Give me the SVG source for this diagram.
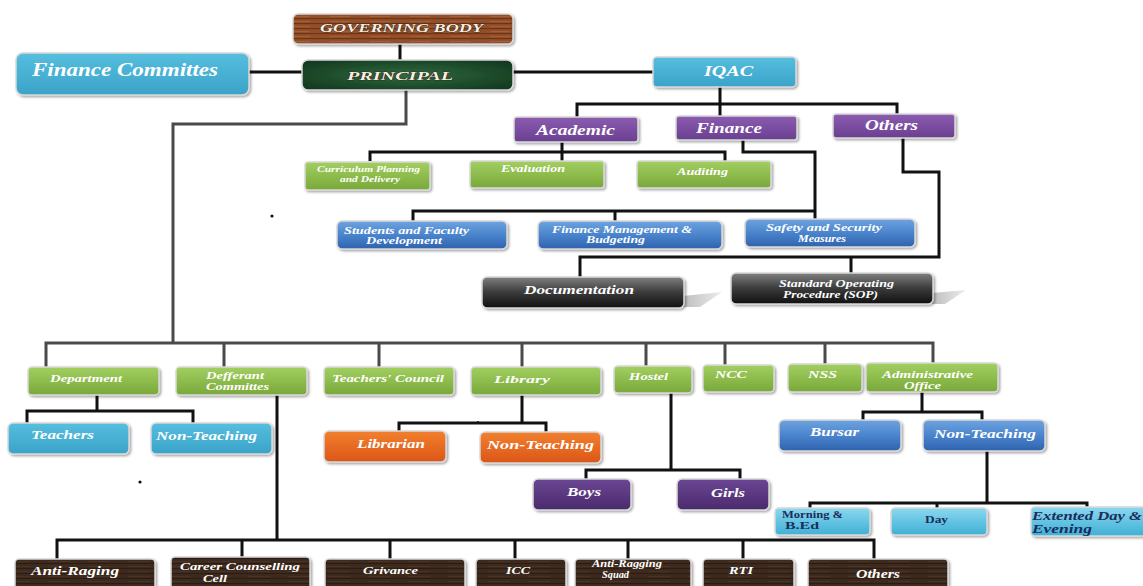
<svg xmlns="http://www.w3.org/2000/svg" width="1143" height="586" viewBox="0 0 1143 586">
<defs>
<linearGradient id="gGreen" x1="0" y1="0" x2="0" y2="1"><stop offset="0" stop-color="#a2cf60"/><stop offset="1" stop-color="#79a83a"/></linearGradient>
<linearGradient id="gPurple" x1="0" y1="0" x2="0" y2="1"><stop offset="0" stop-color="#8b5cb0"/><stop offset="1" stop-color="#6a3f90"/></linearGradient>
<linearGradient id="gBlue" x1="0" y1="0" x2="0" y2="1"><stop offset="0" stop-color="#6ea3e0"/><stop offset="0.5" stop-color="#4a84cc"/><stop offset="1" stop-color="#2f62ae"/></linearGradient>
<linearGradient id="gCyan" x1="0" y1="0" x2="0" y2="1"><stop offset="0" stop-color="#56bede"/><stop offset="1" stop-color="#3aa3c9"/></linearGradient>
<linearGradient id="gLight" x1="0" y1="0" x2="0" y2="1"><stop offset="0" stop-color="#8ad8ee"/><stop offset="1" stop-color="#3fb0d6"/></linearGradient>
<linearGradient id="gDark" x1="0" y1="0" x2="0" y2="1"><stop offset="0" stop-color="#808080"/><stop offset="0.5" stop-color="#3a3a3a"/><stop offset="1" stop-color="#111"/></linearGradient>
<linearGradient id="gOrange" x1="0" y1="0" x2="0" y2="1"><stop offset="0" stop-color="#f2802e"/><stop offset="1" stop-color="#db5618"/></linearGradient>
<linearGradient id="gViolet" x1="0" y1="0" x2="0" y2="1"><stop offset="0" stop-color="#6c4694"/><stop offset="1" stop-color="#4a2a6c"/></linearGradient>
<linearGradient id="gShadow" x1="0" y1="0" x2="1" y2="0"><stop offset="0" stop-color="#bdbdbd"/><stop offset="1" stop-color="#ededed"/></linearGradient>
<radialGradient id="gMarble" cx="0.5" cy="0.5" r="0.7"><stop offset="0" stop-color="#2f6a3e"/><stop offset="0.6" stop-color="#1d4a2a"/><stop offset="1" stop-color="#123420"/></radialGradient>
<pattern id="pWood" patternUnits="userSpaceOnUse" width="40" height="5"><rect width="40" height="5" fill="#93502a"/><rect y="3" width="40" height="1.2" fill="#6d3515"/><rect x="10" y="1" width="20" height="0.8" fill="#a96236"/></pattern>
<pattern id="pDarkWood" patternUnits="userSpaceOnUse" width="40" height="5"><rect width="40" height="5" fill="#3e2a1f"/><rect y="3" width="40" height="1" fill="#2a1b12"/><rect x="8" y="1" width="22" height="0.8" fill="#4d3527"/></pattern>
<filter id="sh" x="-10%" y="-20%" width="120%" height="150%"><feDropShadow dx="1.5" dy="1.5" stdDeviation="1" flood-color="#000" flood-opacity="0.35"/></filter>
</defs>
<style>
.bx{stroke:#d9d9d9;stroke-width:1.5;filter:url(#sh)}
.t{font-family:"Liberation Serif","DejaVu Serif",serif;font-style:italic;font-weight:bold;fill:#fff}
.n{fill:#1c2c5c}
.up{font-style:normal}
.cap{fill:#f5efe4;stroke:#2a1408;stroke-width:0.7;paint-order:stroke}
.c{fill:none;stroke:#111;stroke-width:3}
.g{fill:none;stroke:#4a4a4a;stroke-width:3}
</style>

<g id="connectors">
<path class="c" d="M400,44V60M248,72H302M513,72H653"/>
<path class="g" d="M406,90V124H173V343"/>
<path class="g" d="M46,367V343H933V364M224,343V367M379,343V367M522,343V367M646,343V366M725,343V365M825,343V364"/>
<path class="c" d="M720,87V104M577,117V104H897V114M720,104V116"/>
<path class="c" d="M562,142V152M370,161V152H725V161M562,152V161"/>
<path class="c" d="M743,140V152H815V219M413,221V211H815M615,211V221"/>
<path class="c" d="M903,138V172H939V257H580V277M851,257V273"/>
<path class="c" d="M97,395V411M27,423V411H193V423"/>
<path class="c" d="M277,395V540M57,559V540H874V559M242,540V557M390,540V559M515,540V559M628,540V559M743,540V559"/>
<path class="c" d="M522,395V423M399,431V423H546V432"/>
<path class="c" d="M671,393V470M586,479V470H740V479"/>
<path class="c" d="M922,392V412M863,420V412H982V420"/>
<path class="c" d="M987,451V503M810,508V503H1087V507M937,503V508"/>
</g>

<g id="dots" fill="#111">
<circle cx="272" cy="216" r="1.6"/><circle cx="140" cy="482" r="1.6"/><circle cx="478" cy="422" r="1"/><circle cx="537" cy="394" r="1"/>
</g>

<g id="governing-body"><rect class="bx" x="293" y="14" width="220" height="30" rx="5" fill="url(#pWood)"/><text class="t cap" x="320" y="32" font-size="13" textLength="163" lengthAdjust="spacingAndGlyphs">GOVERNING BODY</text></g>
<g id="principal"><rect class="bx" x="302" y="60" width="211" height="30" rx="6" fill="url(#gMarble)"/><text class="t cap" x="347" y="80" font-size="13" textLength="106" lengthAdjust="spacingAndGlyphs">PRINCIPAL</text></g>
<g id="finance-committes"><rect class="bx" x="16" y="53" width="233" height="42" rx="7" fill="url(#gCyan)" stroke-width="2.5"/><text class="t" x="32" y="76" font-size="18" fill="#eaf6fa" textLength="186" lengthAdjust="spacingAndGlyphs">Finance Committes</text></g>
<g id="iqac"><rect class="bx" x="653" y="57" width="143" height="30" rx="4" fill="url(#gCyan)"/><text class="t" x="704" y="76" font-size="14" textLength="49" lengthAdjust="spacingAndGlyphs">IQAC</text></g>

<g id="academic"><rect class="bx" x="514" y="117" width="124" height="25" rx="3" fill="url(#gPurple)"/><text class="t" x="536" y="135" font-size="15" textLength="79" lengthAdjust="spacingAndGlyphs">Academic</text></g>
<g id="finance"><rect class="bx" x="676" y="116" width="121" height="24" rx="3" fill="url(#gPurple)"/><text class="t" x="696" y="133" font-size="14" textLength="66" lengthAdjust="spacingAndGlyphs">Finance</text></g>
<g id="others-iqac"><rect class="bx" x="833" y="114" width="122" height="24" rx="3" fill="url(#gPurple)"/><text class="t" x="865" y="130" font-size="14" textLength="53" lengthAdjust="spacingAndGlyphs">Others</text></g>

<g id="curriculum"><rect class="bx" x="305" y="162" width="125" height="28" rx="3" fill="url(#gGreen)"/><text class="t" x="317" y="172" font-size="8.5" textLength="103" lengthAdjust="spacingAndGlyphs">Curriculum Planning</text><text class="t" x="340" y="182" font-size="8.5" textLength="60" lengthAdjust="spacingAndGlyphs">and Delivery</text></g>
<g id="evaluation"><rect class="bx" x="470" y="161" width="134" height="27" rx="3" fill="url(#gGreen)"/><text class="t" x="501" y="172" font-size="10" textLength="64" lengthAdjust="spacingAndGlyphs">Evaluation</text></g>
<g id="auditing"><rect class="bx" x="637" y="161" width="134" height="27" rx="3" fill="url(#gGreen)"/><text class="t" x="677" y="175" font-size="10" textLength="51" lengthAdjust="spacingAndGlyphs">Auditing</text></g>

<g id="students"><rect class="bx" x="337" y="221" width="170" height="28" rx="5" fill="url(#gBlue)"/><text class="t" x="344" y="234" font-size="9.5" textLength="125" lengthAdjust="spacingAndGlyphs">Students and Faculty</text><text class="t" x="366" y="244" font-size="9.5" textLength="76" lengthAdjust="spacingAndGlyphs">Development</text></g>
<g id="finance-mgmt"><rect class="bx" x="538" y="221" width="184" height="28" rx="5" fill="url(#gBlue)"/><text class="t" x="552" y="233" font-size="10" textLength="140" lengthAdjust="spacingAndGlyphs">Finance Management &amp;</text><text class="t" x="586" y="243" font-size="10" textLength="59" lengthAdjust="spacingAndGlyphs">Budgeting</text></g>
<g id="safety"><rect class="bx" x="745" y="219" width="170" height="28" rx="5" fill="url(#gBlue)"/><text class="t" x="766" y="231" font-size="9.5" textLength="116" lengthAdjust="spacingAndGlyphs">Safety and Security</text><text class="t" x="798" y="242" font-size="9.5" textLength="48" lengthAdjust="spacingAndGlyphs">Measures</text></g>

<g id="documentation"><polygon points="683,296 722,292 700,307 683,307" fill="url(#gShadow)"/><rect class="bx" x="482" y="277" width="202" height="31" rx="5" fill="url(#gDark)" stroke="#555"/><text class="t" x="524" y="294" font-size="13" fill="#f2f2f2" textLength="110" lengthAdjust="spacingAndGlyphs">Documentation</text></g>
<g id="sop"><polygon points="932,293 966,290 945,304 932,304" fill="url(#gShadow)"/><rect class="bx" x="731" y="273" width="202" height="31" rx="5" fill="url(#gDark)" stroke="#555"/><text class="t" x="779" y="287" font-size="9.5" fill="#f2f2f2" textLength="115" lengthAdjust="spacingAndGlyphs">Standard Operating</text><text class="t" x="783" y="298" font-size="9.5" fill="#f2f2f2" textLength="95" lengthAdjust="spacingAndGlyphs">Procedure (SOP)</text></g>

<g id="department"><rect class="bx" x="28" y="367" width="131" height="28" rx="4" fill="url(#gGreen)"/><text class="t" x="50" y="382" font-size="10.5" textLength="72" lengthAdjust="spacingAndGlyphs">Department</text></g>
<g id="defferant-committes"><rect class="bx" x="176" y="367" width="131" height="28" rx="4" fill="url(#gGreen)"/><text class="t" x="206" y="379" font-size="10.5" textLength="58" lengthAdjust="spacingAndGlyphs">Defferant</text><text class="t" x="206" y="390" font-size="10.5" textLength="63" lengthAdjust="spacingAndGlyphs">Committes</text></g>
<g id="teachers-council"><rect class="bx" x="324" y="367" width="130" height="28" rx="4" fill="url(#gGreen)"/><text class="t" x="332" y="382" font-size="10.5" textLength="112" lengthAdjust="spacingAndGlyphs">Teachers' Council</text></g>
<g id="library"><rect class="bx" x="471" y="367" width="130" height="28" rx="4" fill="url(#gGreen)"/><text class="t" x="494" y="383" font-size="10.5" textLength="56" lengthAdjust="spacingAndGlyphs">Library</text></g>
<g id="hostel"><rect class="bx" x="614" y="366" width="78" height="27" rx="4" fill="url(#gGreen)"/><text class="t" x="629" y="380" font-size="10.5" textLength="39" lengthAdjust="spacingAndGlyphs">Hostel</text></g>
<g id="ncc"><rect class="bx" x="703" y="365" width="71" height="27" rx="4" fill="url(#gGreen)"/><text class="t" x="715" y="378" font-size="10" textLength="32" lengthAdjust="spacingAndGlyphs">NCC</text></g>
<g id="nss"><rect class="bx" x="788" y="364" width="74" height="28" rx="4" fill="url(#gGreen)"/><text class="t" x="808" y="378" font-size="10" textLength="29" lengthAdjust="spacingAndGlyphs">NSS</text></g>
<g id="administrative-office"><rect class="bx" x="866" y="363" width="132" height="29" rx="4" fill="url(#gGreen)"/><text class="t" x="882" y="378" font-size="10" textLength="91" lengthAdjust="spacingAndGlyphs">Administrative</text><text class="t" x="904" y="389" font-size="10" textLength="37" lengthAdjust="spacingAndGlyphs">Office</text></g>

<g id="teachers"><rect class="bx" x="8" y="423" width="121" height="31" rx="5" fill="url(#gCyan)"/><text class="t" x="31" y="439" font-size="13" textLength="63" lengthAdjust="spacingAndGlyphs">Teachers</text></g>
<g id="non-teaching-dept"><rect class="bx" x="151" y="423" width="121" height="31" rx="5" fill="url(#gCyan)"/><text class="t" x="156" y="440" font-size="13" textLength="101" lengthAdjust="spacingAndGlyphs">Non-Teaching</text></g>
<g id="librarian"><rect class="bx" x="324" y="431" width="122" height="31" rx="5" fill="url(#gOrange)"/><text class="t" x="357" y="448" font-size="13" fill="#fde9dc" textLength="68" lengthAdjust="spacingAndGlyphs">Librarian</text></g>
<g id="non-teaching-lib"><rect class="bx" x="480" y="432" width="121" height="31" rx="5" fill="url(#gOrange)"/><text class="t" x="487" y="449" font-size="13" fill="#fde9dc" textLength="107" lengthAdjust="spacingAndGlyphs">Non-Teaching</text></g>
<g id="bursar"><rect class="bx" x="779" y="420" width="122" height="31" rx="5" fill="url(#gBlue)"/><text class="t" x="810" y="436" font-size="13" textLength="49" lengthAdjust="spacingAndGlyphs">Bursar</text></g>
<g id="non-teaching-admin"><rect class="bx" x="923" y="420" width="122" height="31" rx="5" fill="url(#gBlue)"/><text class="t" x="934" y="438" font-size="13" textLength="102" lengthAdjust="spacingAndGlyphs">Non-Teaching</text></g>

<g id="boys"><rect class="bx" x="533" y="479" width="98" height="31" rx="5" fill="url(#gViolet)"/><text class="t" x="567" y="496" font-size="12.5" textLength="34" lengthAdjust="spacingAndGlyphs">Boys</text></g>
<g id="girls"><rect class="bx" x="677" y="479" width="92" height="31" rx="5" fill="url(#gViolet)"/><text class="t" x="711" y="497" font-size="12.5" textLength="34" lengthAdjust="spacingAndGlyphs">Girls</text></g>

<g id="morning"><rect class="bx" x="775" y="508" width="95" height="27" rx="4" fill="url(#gLight)"/><text class="t n up" x="782" y="518" font-size="10.5" textLength="61" lengthAdjust="spacingAndGlyphs">Morning &amp;</text><text class="t n up" x="785" y="529" font-size="10.5" textLength="34" lengthAdjust="spacingAndGlyphs">B.Ed</text></g>
<g id="day"><rect class="bx" x="891" y="508" width="96" height="27" rx="4" fill="url(#gLight)"/><text class="t n up" x="925" y="523" font-size="10.5" textLength="23" lengthAdjust="spacingAndGlyphs">Day</text></g>
<g id="extended"><rect class="bx" x="1031" y="507" width="120" height="29" rx="4" fill="url(#gLight)"/><text class="t n" x="1032" y="520" font-size="11.5" textLength="110" lengthAdjust="spacingAndGlyphs">Extented Day &amp;</text><text class="t n" x="1032" y="533" font-size="11.5" textLength="60" lengthAdjust="spacingAndGlyphs">Evening</text></g>

<g id="anti-raging"><rect class="bx" x="15" y="559" width="140" height="32" rx="4" fill="url(#pDarkWood)"/><text class="t" x="31" y="575" font-size="12" textLength="88" lengthAdjust="spacingAndGlyphs">Anti-Raging</text></g>
<g id="career-counselling"><rect class="bx" x="171" y="557" width="139" height="34" rx="4" fill="url(#pDarkWood)"/><text class="t" x="180" y="570" font-size="11" textLength="120" lengthAdjust="spacingAndGlyphs">Career Counselling</text><text class="t" x="203" y="582" font-size="11" textLength="24" lengthAdjust="spacingAndGlyphs">Cell</text></g>
<g id="grivance"><rect class="bx" x="325" y="559" width="140" height="32" rx="4" fill="url(#pDarkWood)"/><text class="t" x="363" y="574" font-size="11" textLength="55" lengthAdjust="spacingAndGlyphs">Grivance</text></g>
<g id="icc"><rect class="bx" x="476" y="559" width="90" height="32" rx="4" fill="url(#pDarkWood)"/><text class="t" x="506" y="574" font-size="11" textLength="24" lengthAdjust="spacingAndGlyphs">ICC</text></g>
<g id="anti-ragging-squad"><rect class="bx" x="575" y="559" width="116" height="32" rx="4" fill="url(#pDarkWood)"/><text class="t" x="592" y="567" font-size="10" textLength="70" lengthAdjust="spacingAndGlyphs">Anti-Ragging</text><text class="t" x="602" y="578" font-size="10" textLength="27" lengthAdjust="spacingAndGlyphs">Squad</text></g>
<g id="rti"><rect class="bx" x="703" y="559" width="91" height="32" rx="4" fill="url(#pDarkWood)"/><text class="t" x="729" y="574" font-size="11" textLength="24" lengthAdjust="spacingAndGlyphs">RTI</text></g>
<g id="others-bottom"><rect class="bx" x="808" y="559" width="140" height="32" rx="4" fill="url(#pDarkWood)"/><text class="t" x="856" y="578" font-size="12" textLength="44" lengthAdjust="spacingAndGlyphs">Others</text></g>
</svg>
